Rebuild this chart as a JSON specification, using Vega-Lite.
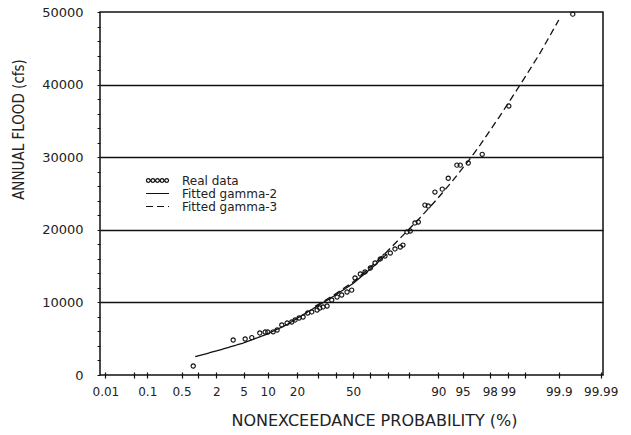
{
  "$schema": "https://vega.github.io/schema/vega-lite/v6.json",
  "width": 503,
  "height": 363,
  "autosize": {"type": "none"},
  "padding": {"left": 100, "top": 12, "right": 28, "bottom": 60},
  "background": "white",
  "config": {
    "view": {"stroke": "#111", "strokeWidth": 1.5},
    "font": "DejaVu Sans"
  },
  "datasets": {
    "fits": [
      {"series": "Fitted gamma-2", "zscore": -2.37, "flow": 2520},
      {"series": "Fitted gamma-2", "zscore": -2.0, "flow": 3450},
      {"series": "Fitted gamma-2", "zscore": -1.65, "flow": 4400},
      {"series": "Fitted gamma-2", "zscore": -1.3, "flow": 5600},
      {"series": "Fitted gamma-2", "zscore": -1.0, "flow": 6900},
      {"series": "Fitted gamma-2", "zscore": -0.57, "flow": 9300},
      {"series": "Fitted gamma-2", "zscore": -0.3, "flow": 10800},
      {"series": "Fitted gamma-2", "zscore": 0.0, "flow": 12600},
      {"series": "Fitted gamma-2", "zscore": 0.3, "flow": 14900},
      {"series": "Fitted gamma-2", "zscore": 0.5, "flow": 16600},
      {"series": "Fitted gamma-3", "zscore": -0.57, "flow": 9450},
      {"series": "Fitted gamma-3", "zscore": -0.3, "flow": 10950},
      {"series": "Fitted gamma-3", "zscore": 0.0, "flow": 12800},
      {"series": "Fitted gamma-3", "zscore": 0.3, "flow": 15200},
      {"series": "Fitted gamma-3", "zscore": 0.5, "flow": 16900},
      {"series": "Fitted gamma-3", "zscore": 0.81, "flow": 19800},
      {"series": "Fitted gamma-3", "zscore": 1.0, "flow": 21600},
      {"series": "Fitted gamma-3", "zscore": 1.25, "flow": 24100},
      {"series": "Fitted gamma-3", "zscore": 1.5, "flow": 26800},
      {"series": "Fitted gamma-3", "zscore": 1.75, "flow": 29700},
      {"series": "Fitted gamma-3", "zscore": 1.91, "flow": 31700},
      {"series": "Fitted gamma-3", "zscore": 2.2, "flow": 35600},
      {"series": "Fitted gamma-3", "zscore": 2.54, "flow": 40400},
      {"series": "Fitted gamma-3", "zscore": 2.8, "flow": 44200},
      {"series": "Fitted gamma-3", "zscore": 3.09, "flow": 48900}
    ],
    "observed": [
      {"zscore": -2.40, "flow": 1240},
      {"zscore": -1.80, "flow": 4820},
      {"zscore": -1.62, "flow": 4960},
      {"zscore": -1.52, "flow": 5140},
      {"zscore": -1.40, "flow": 5790},
      {"zscore": -1.32, "flow": 5920},
      {"zscore": -1.28, "flow": 5920},
      {"zscore": -1.20, "flow": 5950},
      {"zscore": -1.14, "flow": 6200},
      {"zscore": -1.07, "flow": 6890},
      {"zscore": -0.99, "flow": 7160},
      {"zscore": -0.92, "flow": 7300},
      {"zscore": -0.87, "flow": 7580},
      {"zscore": -0.81, "flow": 7850},
      {"zscore": -0.75, "flow": 7990},
      {"zscore": -0.68, "flow": 8540},
      {"zscore": -0.62, "flow": 8680},
      {"zscore": -0.54, "flow": 8950},
      {"zscore": -0.50, "flow": 9230},
      {"zscore": -0.45, "flow": 9370},
      {"zscore": -0.39, "flow": 9500},
      {"zscore": -0.32, "flow": 10330},
      {"zscore": -0.24, "flow": 10740},
      {"zscore": -0.17, "flow": 11020},
      {"zscore": -0.09, "flow": 11430},
      {"zscore": -0.02, "flow": 11700},
      {"zscore": 0.03, "flow": 13360},
      {"zscore": 0.11, "flow": 13910},
      {"zscore": 0.18, "flow": 14190},
      {"zscore": 0.26, "flow": 14740},
      {"zscore": 0.33, "flow": 15430},
      {"zscore": 0.41, "flow": 15980},
      {"zscore": 0.48, "flow": 16390},
      {"zscore": 0.56, "flow": 16800},
      {"zscore": 0.63, "flow": 17360},
      {"zscore": 0.71, "flow": 17630},
      {"zscore": 0.75, "flow": 17900},
      {"zscore": 0.81, "flow": 19700},
      {"zscore": 0.86, "flow": 19830},
      {"zscore": 0.93, "flow": 20940},
      {"zscore": 0.98, "flow": 21070},
      {"zscore": 1.08, "flow": 23400},
      {"zscore": 1.13, "flow": 23280},
      {"zscore": 1.23, "flow": 25200},
      {"zscore": 1.34, "flow": 25600},
      {"zscore": 1.43, "flow": 27100},
      {"zscore": 1.56, "flow": 28900},
      {"zscore": 1.61, "flow": 28900},
      {"zscore": 1.73, "flow": 29200},
      {"zscore": 1.94, "flow": 30400},
      {"zscore": 2.34, "flow": 37050},
      {"zscore": 3.30, "flow": 49700}
    ]
  },
  "layer": [
    {
      "data": {"name": "fits"},
      "mark": {"type": "line", "color": "#111", "strokeWidth": 1.3},
      "encoding": {
        "x": {
          "field": "zscore",
          "type": "quantitative",
          "scale": {"domain": [-3.8, 3.754], "nice": false, "zero": false},
          "axis": {
            "values": [-3.719016, -3.290527, -3.090232, -2.575829, -2.326348, -2.053749, -1.644854, -1.281552, -0.841621, -0.524401, -0.253347, 0, 0.253347, 0.524401, 0.841621, 1.281552, 1.644854, 2.053749, 2.326348, 2.575829, 3.090232, 3.719016],
            "tickCount": 100,
            "labelExpr": "indexof([0.01, 0.1, 0.5, 2, 5, 10, 20, 50, 90, 95, 98, 99, 99.9, 99.99], round(cumulativeNormal(datum.value) * 10000) / 100) >= 0 ? '' + round(cumulativeNormal(datum.value) * 10000) / 100 : ''",
            "title": "NONEXCEEDANCE   PROBABILITY   (%)",
            "grid": false,
            "domain": false,
            "offset": -3,
            "tickSize": 6,
            "tickColor": "#111",
            "tickWidth": 1.2,
            "labelPadding": 8,
            "labelFontSize": 12,
            "labelColor": "#222",
            "labelFlush": false,
            "labelOverlap": false,
            "titleFontSize": 16,
            "titleFontWeight": "normal",
            "titleColor": "#222",
            "titleX": 274,
            "titleY": 48,
            "titleAlign": "center",
            "titleBaseline": "middle"
          }
        },
        "y": {
          "field": "flow",
          "type": "quantitative",
          "scale": {"domain": [0, 50000], "nice": false},
          "axis": {
            "values": [0, 2000, 4000, 6000, 8000, 10000, 12000, 14000, 16000, 18000, 20000, 22000, 24000, 26000, 28000, 30000, 32000, 34000, 36000, 38000, 40000, 42000, 44000, 46000, 48000, 50000],
            "tickCount": 100,
            "labelExpr": "datum.value % 10000 === 0 ? '' + datum.value : ''",
            "grid": true,
            "gridColor": "#111",
            "gridWidth": 1.3,
            "gridOpacity": {"condition": {"test": "datum.value % 10000 === 0 && datum.value > 0 && datum.value < 50000", "value": 1}, "value": 0},
            "domain": false,
            "tickSize": 3,
            "tickColor": "#111",
            "labelPadding": 14,
            "labelFontSize": 13,
            "labelColor": "#222",
            "labelOverlap": false,
            "labelFlush": false,
            "title": "ANNUAL FLOOD (cfs)",
            "titleFont": "Liberation Sans Narrow, DejaVu Sans Condensed, sans-serif",
            "titleFontSize": 15,
            "titleFontWeight": "normal",
            "titleColor": "#222",
            "titleAngle": -90,
            "titleX": -82,
            "titleY": 117,
            "titleAlign": "center",
            "titleBaseline": "middle"
          }
        },
        "strokeDash": {
          "field": "series",
          "type": "nominal",
          "scale": {
            "domain": ["Real data", "Fitted gamma-2", "Fitted gamma-3"],
            "range": [[1, 0], [1, 0], [7, 4]]
          },
          "legend": {
            "title": null,
            "orient": "none",
            "legendX": 51,
            "legendY": 162,
            "symbolType": "stroke",
            "symbolSize": 132,
            "symbolStrokeWidth": 1.2,
            "symbolStrokeColor": "#111",
            "labelFontSize": 12,
            "labelColor": "#222",
            "labelOffset": 18,
            "rowPadding": 0,
            "encode": {
              "symbols": {
                "update": {
                  "shape": {"signal": "datum.value === 'Real data' ? 'M -1.28 0 A 0.32 0.32 0 1 0 -1.92 0 A 0.32 0.32 0 1 0 -1.28 0 Z M -0.48 0 A 0.32 0.32 0 1 0 -1.12 0 A 0.32 0.32 0 1 0 -0.48 0 Z M 0.32 0 A 0.32 0.32 0 1 0 -0.32 0 A 0.32 0.32 0 1 0 0.32 0 Z M 1.12 0 A 0.32 0.32 0 1 0 0.48 0 A 0.32 0.32 0 1 0 1.12 0 Z M 1.92 0 A 0.32 0.32 0 1 0 1.28 0 A 0.32 0.32 0 1 0 1.92 0 Z' : 'M -2 0 L 2 0'"},
                  "fill": {"value": "transparent"},
                  "stroke": {"value": "#111"}
                }
              }
            }
          }
        }
      }
    },
    {
      "data": {"name": "observed"},
      "mark": {"type": "point", "shape": "circle", "filled": false, "color": "#111", "size": 18, "strokeWidth": 1.1, "opacity": 1},
      "encoding": {
        "x": {"field": "zscore", "type": "quantitative"},
        "y": {"field": "flow", "type": "quantitative"}
      }
    }
  ]
}
